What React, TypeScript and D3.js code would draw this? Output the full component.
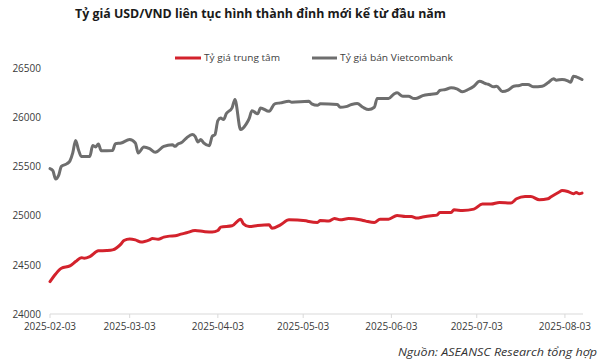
import React from "react";
import * as d3 from "d3";

const W = 602;
const H = 359;

const titleText = "Tỷ giá USD/VND liên tục hình thành đỉnh mới kể từ đầu năm";
const sourceText = "Nguồn: ASEANSC Research tổng hợp";
const seriesNames = ["Tỷ giá trung tâm", "Tỷ giá bán Vietcombank"];
const seriesColors = ["#d3222c", "#6e6e6e"];

const yTicks = [24000, 24500, 25000, 25500, 26000, 26500];
const xTickLabels = ["2025-02-03", "2025-03-03", "2025-04-03", "2025-05-03", "2025-06-03", "2025-07-03", "2025-08-03"];

const centralDates = [
  "2025-02-03", "2025-02-05", "2025-02-07", "2025-02-10", "2025-02-12", "2025-02-14", "2025-02-15", "2025-02-17",
  "2025-02-20", "2025-02-23", "2025-02-25", "2025-02-28", "2025-03-01", "2025-03-03", "2025-03-05", "2025-03-07",
  "2025-03-10", "2025-03-11", "2025-03-13", "2025-03-15", "2025-03-17", "2025-03-19", "2025-03-21", "2025-03-23",
  "2025-03-26", "2025-03-29", "2025-04-01", "2025-04-03", "2025-04-04", "2025-04-08", "2025-04-11", "2025-04-12",
  "2025-04-14", "2025-04-17", "2025-04-21", "2025-04-22", "2025-04-25", "2025-04-28", "2025-05-04", "2025-05-05",
  "2025-05-08", "2025-05-09", "2025-05-12", "2025-05-14", "2025-05-16", "2025-05-19", "2025-05-23", "2025-05-25",
  "2025-05-28", "2025-05-30", "2025-06-02", "2025-06-05", "2025-06-08", "2025-06-10", "2025-06-12", "2025-06-14",
  "2025-06-17", "2025-06-19", "2025-06-20", "2025-06-24", "2025-06-25", "2025-06-28", "2025-07-02", "2025-07-05",
  "2025-07-08", "2025-07-11", "2025-07-15", "2025-07-17", "2025-07-20", "2025-07-22", "2025-07-25", "2025-07-28",
  "2025-07-29", "2025-08-01", "2025-08-02", "2025-08-04", "2025-08-06", "2025-08-07", "2025-08-08", "2025-08-09",
];
const centralValues = [
  24330, 24408, 24466, 24490, 24534, 24574, 24568, 24585,
  24643, 24646, 24653, 24714, 24748, 24765, 24755, 24732,
  24755, 24768, 24762, 24783, 24793, 24796, 24813, 24827,
  24850, 24840, 24834, 24850, 24885, 24898, 24966, 24918,
  24891, 24901, 24908, 24874, 24908, 24959, 24949, 24942,
  24932, 24952, 24946, 24972, 24959, 24972, 24959, 24946,
  24932, 24966, 24966, 25003, 24993, 24993, 24977, 24987,
  25000, 25007, 25034, 25034, 25061, 25054, 25068, 25119,
  25119, 25136, 25130, 25173, 25197, 25197, 25163, 25173,
  25191, 25242, 25258, 25248, 25224, 25238, 25224, 25231,
];

const vcbDates = [
  "2025-02-03", "2025-02-04", "2025-02-05", "2025-02-06", "2025-02-07", "2025-02-09", "2025-02-10", "2025-02-11",
  "2025-02-12", "2025-02-13", "2025-02-14", "2025-02-17", "2025-02-18", "2025-02-19", "2025-02-20", "2025-02-21",
  "2025-02-25", "2025-02-26", "2025-02-28", "2025-03-03", "2025-03-05", "2025-03-06", "2025-03-08", "2025-03-10",
  "2025-03-12", "2025-03-15", "2025-03-18", "2025-03-19", "2025-03-20", "2025-03-21", "2025-03-23", "2025-03-25",
  "2025-03-26", "2025-03-27", "2025-03-28", "2025-03-29", "2025-03-31", "2025-04-01", "2025-04-02", "2025-04-03",
  "2025-04-04", "2025-04-05", "2025-04-06", "2025-04-08", "2025-04-09", "2025-04-11", "2025-04-13", "2025-04-14",
  "2025-04-15", "2025-04-17", "2025-04-18", "2025-04-21", "2025-04-23", "2025-04-25", "2025-04-28", "2025-04-29",
  "2025-05-05", "2025-05-06", "2025-05-08", "2025-05-09", "2025-05-15", "2025-05-16", "2025-05-18", "2025-05-20",
  "2025-05-22", "2025-05-24", "2025-05-26", "2025-05-28", "2025-05-29", "2025-06-02", "2025-06-04", "2025-06-05",
  "2025-06-07", "2025-06-09", "2025-06-11", "2025-06-12", "2025-06-14", "2025-06-17", "2025-06-19", "2025-06-20",
  "2025-06-22", "2025-06-24", "2025-06-26", "2025-06-28", "2025-06-30", "2025-07-02", "2025-07-04", "2025-07-06",
  "2025-07-07", "2025-07-09", "2025-07-10", "2025-07-12", "2025-07-14", "2025-07-16", "2025-07-18", "2025-07-19",
  "2025-07-21", "2025-07-23", "2025-07-26", "2025-07-28", "2025-07-30", "2025-07-31", "2025-08-02", "2025-08-04",
  "2025-08-05", "2025-08-06", "2025-08-07", "2025-08-09",
];
const vcbValues = [
  25480, 25459, 25374, 25408, 25503, 25531, 25558, 25640,
  25768, 25673, 25605, 25605, 25717, 25701, 25732, 25663,
  25666, 25735, 25742, 25776, 25742, 25640, 25701, 25684,
  25646, 25707, 25724, 25707, 25732, 25742, 25793, 25827,
  25809, 25752, 25776, 25742, 25714, 25809, 25827, 25969,
  25995, 25980, 26041, 26099, 26184, 25878, 25936, 25990,
  26071, 26038, 26099, 26064, 26140, 26150, 26166, 26156,
  26166, 26140, 26125, 26140, 26133, 26105, 26112, 26133,
  26143, 26105, 26082, 26105, 26194, 26194, 26242, 26252,
  26217, 26217, 26194, 26197, 26224, 26238, 26245, 26276,
  26286, 26303, 26293, 26262, 26286, 26320, 26371, 26347,
  26340, 26313, 26320, 26265, 26279, 26320, 26327, 26337,
  26337, 26313, 26320, 26354, 26395, 26381, 26388, 26374,
  26360, 26421, 26415, 26388,
];

const FONT = "'Open Sans', 'Noto Sans', sans-serif";

export default function App() {
  const parse = d3.utcParse("%Y-%m-%d");
  const x = d3
    .scaleUtc()
    .domain([parse("2025-02-03")!, parse("2025-08-09")!])
    .range([50, 582]);
  const y = d3.scaleLinear().domain([24000, 26500]).range([314, 68.5]);

  const line = d3
    .line<[Date, number]>()
    .x((d) => x(d[0]))
    .y((d) => y(d[1]))
    .curve(d3.curveMonotoneX);

  const central: [Date, number][] = centralDates.map((d, i) => [parse(d)!, centralValues[i]]);
  const vcb: [Date, number][] = vcbDates.map((d, i) => [parse(d)!, vcbValues[i]]);

  return (
    <svg
      width={W}
      height={H}
      style={{ position: "absolute", left: 0, top: 0, background: "#fff" }}
      fontFamily={FONT}
    >
      <rect width={W} height={H} fill="#fff" />
      <text
        x={260.5}
        y={17.5}
        textAnchor="middle"
        fontSize={13}
        fontWeight={700}
        fill="#1a1a1a"
        textLength={371}
        lengthAdjust="spacingAndGlyphs"
      >
        {titleText}
      </text>

      {/* legend */}
      <line x1={175} x2={201} y1={58} y2={58} stroke={seriesColors[0]} strokeWidth={3} />
      <text x={204} y={61.3} fontSize={9.5} fill="#404040" textLength={76} lengthAdjust="spacingAndGlyphs">
        {seriesNames[0]}
      </text>
      <line x1={312} x2={337} y1={58} y2={58} stroke={seriesColors[1]} strokeWidth={3} />
      <text x={340} y={61.3} fontSize={9.5} fill="#404040" textLength={113} lengthAdjust="spacingAndGlyphs">
        {seriesNames[1]}
      </text>

      {/* y tick labels */}
      {yTicks.map((t) => (
        <text key={t} x={41} y={y(t) + 3.6} textAnchor="end" fontSize={10} fill="#3a3a3a">
          {t}
        </text>
      ))}

      {/* x axis */}
      <line x1={50} x2={583} y1={314} y2={314} stroke="#d9d9d9" strokeWidth={1} />
      {xTickLabels.map((t) => {
        const xx = x(parse(t)!);
        return (
          <g key={t}>
            <line x1={xx} x2={xx} y1={314} y2={318} stroke="#d9d9d9" strokeWidth={1} />
            <text x={xx} y={329.5} textAnchor="middle" fontSize={10} fill="#3a3a3a">
              {t}
            </text>
          </g>
        );
      })}

      {/* series */}
      <path d={line(vcb) || ""} fill="none" stroke={seriesColors[1]} strokeWidth={3} strokeLinejoin="round" strokeLinecap="round" />
      <path d={line(central) || ""} fill="none" stroke={seriesColors[0]} strokeWidth={3} strokeLinejoin="round" strokeLinecap="round" />

      <text
        x={597}
        y={355.5}
        textAnchor="end"
        fontSize={11}
        fontStyle="italic"
        fill="#333"
        textLength={199}
        lengthAdjust="spacingAndGlyphs"
      >
        {sourceText}
      </text>
    </svg>
  );
}
